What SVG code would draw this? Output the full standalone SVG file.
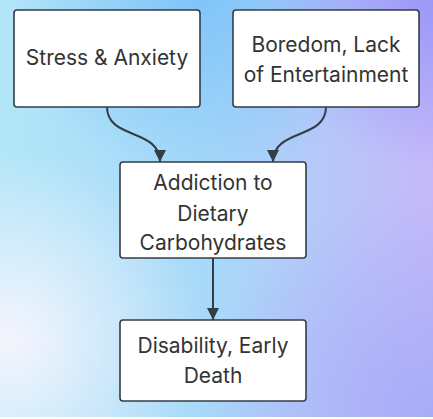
<svg xmlns="http://www.w3.org/2000/svg" width="433" height="419" viewBox="0 0 433 419">
  <defs>
    <linearGradient id="bgBase" x1="0" y1="0" x2="1" y2="0">
      <stop offset="0" stop-color="#b2e6f8"/>
      <stop offset="0.5" stop-color="#a8d8f8"/>
      <stop offset="1" stop-color="#c6b8f8"/>
    </linearGradient>
    <radialGradient id="bgBlue" cx="200" cy="0" r="190" gradientUnits="userSpaceOnUse">
      <stop offset="0" stop-color="#7ec4f8" stop-opacity="0.95"/>
      <stop offset="1" stop-color="#7ec4f8" stop-opacity="0"/>
    </radialGradient>
    <radialGradient id="bgViolet" cx="433" cy="0" r="170" gradientUnits="userSpaceOnUse">
      <stop offset="0" stop-color="#9a98f8" stop-opacity="1"/>
      <stop offset="1" stop-color="#9a98f8" stop-opacity="0"/>
    </radialGradient>
    <radialGradient id="bgWhite" cx="10" cy="340" r="190" gradientUnits="userSpaceOnUse">
      <stop offset="0" stop-color="#f4f4fd" stop-opacity="1"/>
      <stop offset="1" stop-color="#f4f4fd" stop-opacity="0"/>
    </radialGradient>
    <radialGradient id="bgPeri" cx="433" cy="419" r="230" gradientUnits="userSpaceOnUse">
      <stop offset="0" stop-color="#a6acf8" stop-opacity="1"/>
      <stop offset="1" stop-color="#a6acf8" stop-opacity="0"/>
    </radialGradient>
    <marker id="arrow" viewBox="0 0 12 12" refX="12" refY="6" markerWidth="12" markerHeight="12" markerUnits="userSpaceOnUse" orient="auto">
      <path d="M0,0 L12,6 L0,12 Z" fill="#333d47"/>
    </marker>
    <style>
      .node rect { fill: #ffffff; stroke: #333d47; stroke-width: 1.6; }
      .node text { font-family: Inter, "Noto Sans", "Liberation Sans", sans-serif; font-size: 21px; fill: #333333; text-anchor: middle; }
      .edge { fill: none; stroke: #333d47; stroke-width: 2; marker-end: url(#arrow); }
    </style>
  </defs>

  <g id="background">
    <rect x="0" y="0" width="433" height="417" fill="url(#bgBase)"/>
    <rect x="0" y="0" width="433" height="417" fill="url(#bgBlue)"/>
    <rect x="0" y="0" width="433" height="417" fill="url(#bgViolet)"/>
    <rect x="0" y="0" width="433" height="417" fill="url(#bgWhite)"/>
    <rect x="0" y="0" width="433" height="417" fill="url(#bgPeri)"/>
  </g>

  <g id="connectors">
    <path class="edge" d="M107,107 C107,140 160,128 160,162"/>
    <path class="edge" d="M326,107 C326,140 273,128 273,162"/>
    <path class="edge" d="M213,258 L213,320"/>
  </g>

  <g id="node-stress" class="node">
    <rect x="14" y="10" width="186" height="97" rx="3"/>
    <text x="107" y="65">Stress &amp; Anxiety</text>
  </g>

  <g id="node-boredom" class="node">
    <rect x="233" y="10" width="186" height="97" rx="3"/>
    <text x="326" y="52">Boredom, Lack</text>
    <text x="326" y="82">of Entertainment</text>
  </g>

  <g id="node-addiction" class="node">
    <rect x="120" y="162" width="186" height="96" rx="3"/>
    <text x="213" y="190">Addiction to</text>
    <text x="213" y="221">Dietary</text>
    <text x="213" y="250">Carbohydrates</text>
  </g>

  <g id="node-disability" class="node">
    <rect x="120" y="320" width="186" height="81" rx="3"/>
    <text x="213" y="353">Disability, Early</text>
    <text x="213" y="383">Death</text>
  </g>
</svg>
